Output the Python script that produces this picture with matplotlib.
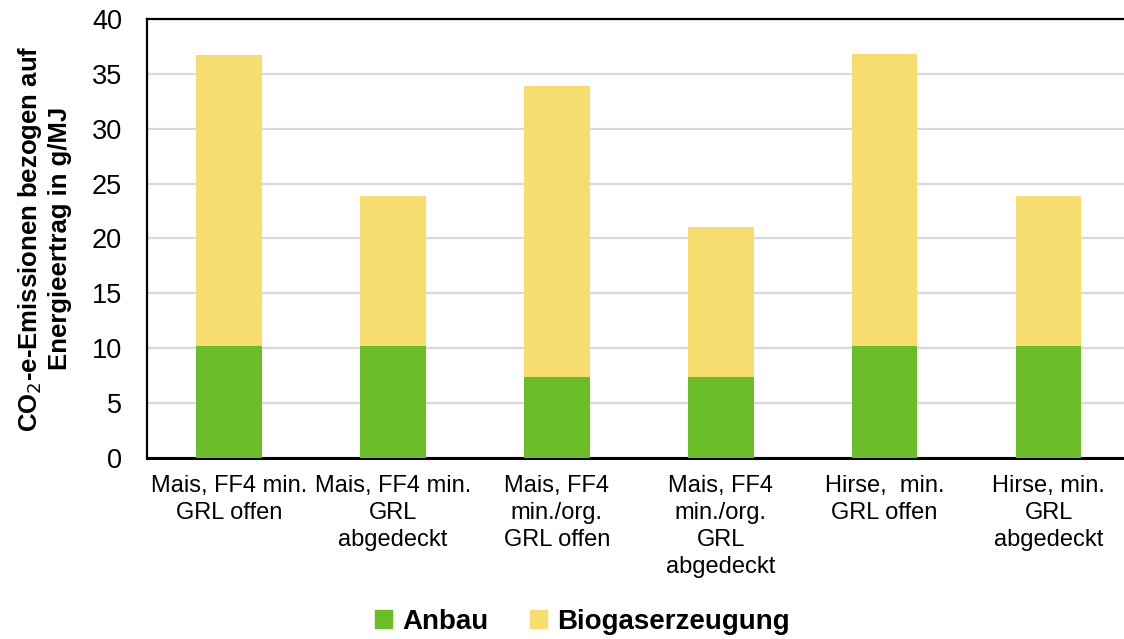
import numpy as np
import matplotlib
matplotlib.use("Agg")
import matplotlib.pyplot as plt
from matplotlib.patches import Patch

plt.rcParams['font.family'] = ['Liberation Sans', 'DejaVu Sans']

# data
categories = [
    "Mais, FF4 min.\nGRL offen",
    "Mais, FF4 min.\nGRL\nabgedeckt",
    "Mais, FF4\nmin./org.\nGRL offen",
    "Mais, FF4\nmin./org.\nGRL\nabgedeckt",
    "Hirse,  min.\nGRL offen",
    "Hirse, min.\nGRL\nabgedeckt",
]
anbau = [10.2, 10.2, 7.4, 7.4, 10.2, 10.2]
biogas = [26.5, 13.7, 26.5, 13.6, 26.6, 13.7]

green = "#6BBD28"
yellow = "#F7DD6F"

fig = plt.figure(figsize=(11.24, 6.39), dpi=100)
ax = fig.add_axes([0.1308, 0.2833, 0.8692, 0.687])

x = np.arange(len(categories))
ax.bar(x, anbau, width=0.40, color=green, zorder=3)
ax.bar(x, biogas, width=0.40, bottom=anbau, color=yellow, zorder=3)

ax.set_xlim(-0.5, 5.46)
ax.set_ylim(0, 40)
ax.set_yticks(range(0, 41, 5))
ax.yaxis.grid(True, color="#D9D9D9", linewidth=1.6, zorder=0)
ax.set_axisbelow(True)

ax.set_xticks(x)
ax.set_xticklabels(categories, fontsize=17, linespacing=1.3)
ax.tick_params(axis="both", length=0)
ax.tick_params(axis="y", pad=18, labelsize=19.5)
ax.tick_params(axis="x", pad=12)

ax.spines["right"].set_visible(False)
ax.spines["top"].set_linewidth(1.6)
ax.spines["left"].set_linewidth(1.6)
ax.spines["bottom"].set_linewidth(2.2)

ax.set_ylabel("CO$_2$-e-Emissionen bezogen auf\nEnergieertrag in g/MJ",
              fontsize=18.5, fontweight="bold", labelpad=14, linespacing=1.25)

handles = [Patch(color=green, label="Anbau"), Patch(color=yellow, label="Biogaserzeugung")]
fig.legend(handles=handles, loc="center", bbox_to_anchor=(0.518, 0.027), ncol=2,
           frameon=False, prop={"size": 20, "weight": "bold"},
           handlelength=0.62, handleheight=0.62, handletextpad=0.35, columnspacing=1.5)

fig.savefig("out.png", dpi=100)
